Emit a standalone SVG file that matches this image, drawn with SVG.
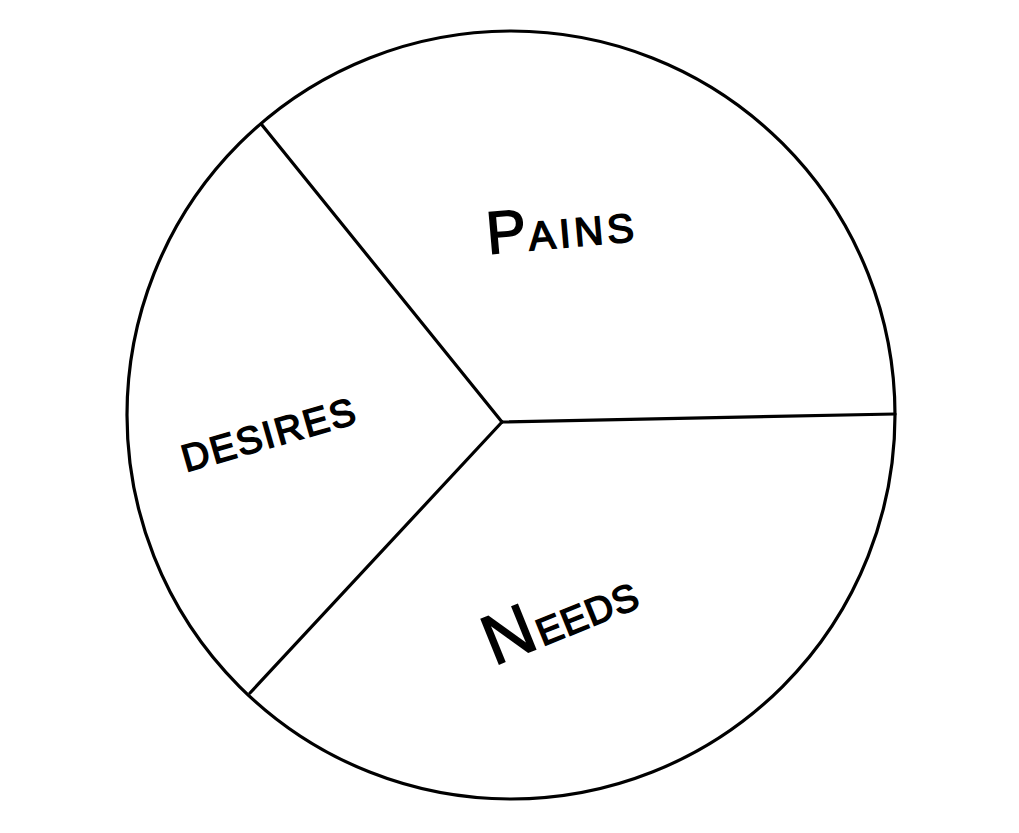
<svg xmlns="http://www.w3.org/2000/svg" width="1019" height="833" viewBox="0 0 1019 833">
<style>
.outline{fill:#fff;stroke:#000;stroke-width:3.2}
.div{stroke:#000;stroke-width:3.2;fill:none;stroke-linecap:round}
.lbl{font-family:"Liberation Sans","DejaVu Sans",sans-serif;fill:#000;stroke:#000;stroke-width:1.6;letter-spacing:2px}
</style>
<rect width="1019" height="833" fill="#fff"/>
<g id="circle"><circle class="outline" cx="511" cy="415" r="384"/></g>
<g id="connectors">
<line class="div" x1="502" y1="422" x2="262" y2="125"/>
<line class="div" x1="502" y1="422" x2="895" y2="414"/>
<line class="div" x1="502" y1="422" x2="250" y2="693"/>
</g>
<g id="pains"><text class="lbl" transform="translate(488,254) rotate(-5)"><tspan font-size="60">P</tspan><tspan font-size="40" letter-spacing="4">AINS</tspan></text></g>
<g id="desires"><text class="lbl" font-size="38" transform="translate(186,472) rotate(-16)">DESIRES</text></g>
<g id="needs"><text class="lbl" transform="translate(494,666) rotate(-22)"><tspan font-size="70">N</tspan><tspan font-size="38" letter-spacing="1">EEDS</tspan></text></g>
</svg>
